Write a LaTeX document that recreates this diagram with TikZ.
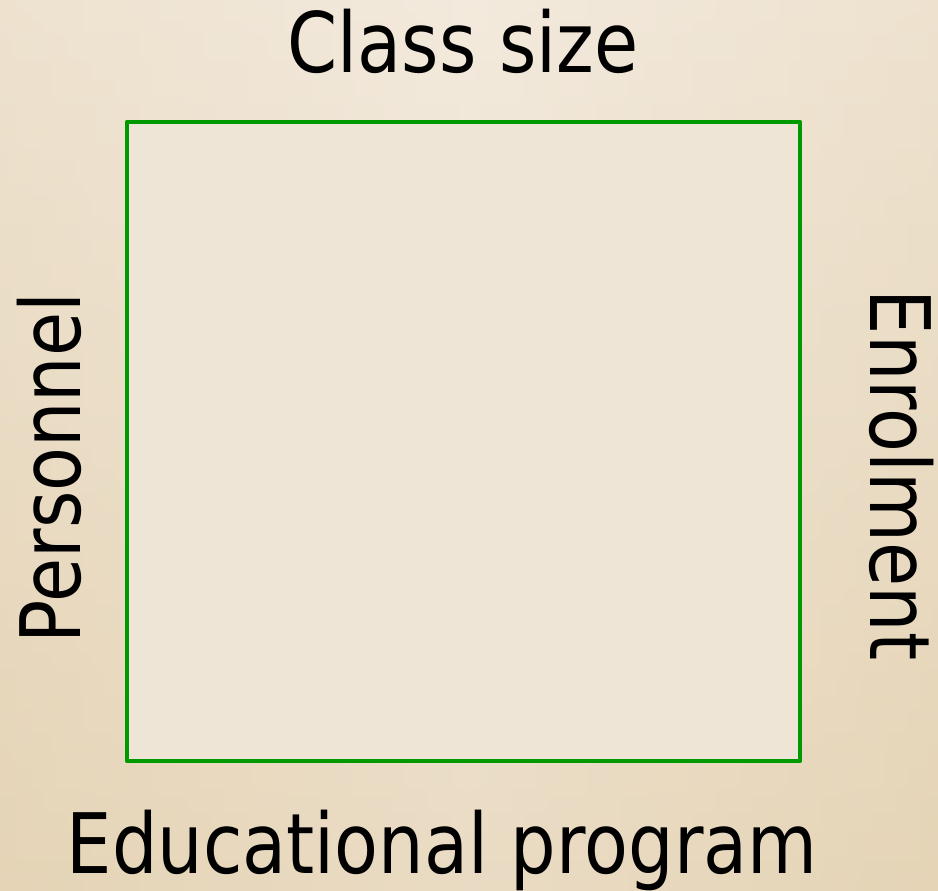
\documentclass[tikz,border=0pt]{standalone}
\usepackage{fontspec}
\setmainfont{DejaVu Sans}[FakeStretch=0.86]
\definecolor{bgtop}{RGB}{243,234,221}
\definecolor{bgbottom}{RGB}{229,212,182}
\definecolor{boxfill}{RGB}{239,229,214}
\definecolor{boxgreen}{RGB}{0,153,0}
\usetikzlibrary{positioning}

\begin{document}
\begin{tikzpicture}[x=0.75pt,y=-0.75pt,
  sidelabel/.style={inner sep=0pt,anchor=base,font=\fontsize{62.6}{70}\selectfont},
  sidebox/.style={draw=boxgreen,fill=boxfill,line width=3.5pt,line join=round}
]
  % Background
  \shade[top color=bgtop,bottom color=bgbottom] (0,0) rectangle (938,891);
  \shade[left color=bgbottom,right color=bgbottom,middle color=bgtop,opacity=0.35] (0,0) rectangle (938,891);
  \useasboundingbox (0,0) rectangle (938,891);
  % Square
  \draw[sidebox] (127,122) rectangle (800,761);
  % Labels round the square
  \node[sidelabel] (classsize) at (463,73) {Class size};
  \node[sidelabel] (program) at (442,873) {Educational program};
  \node[sidelabel,rotate=90] (personnel) at (80,468) {Personnel};
  \node[sidelabel,rotate=-90] (enrolment) at (870,475) {Enrolment};
\end{tikzpicture}
\end{document}
